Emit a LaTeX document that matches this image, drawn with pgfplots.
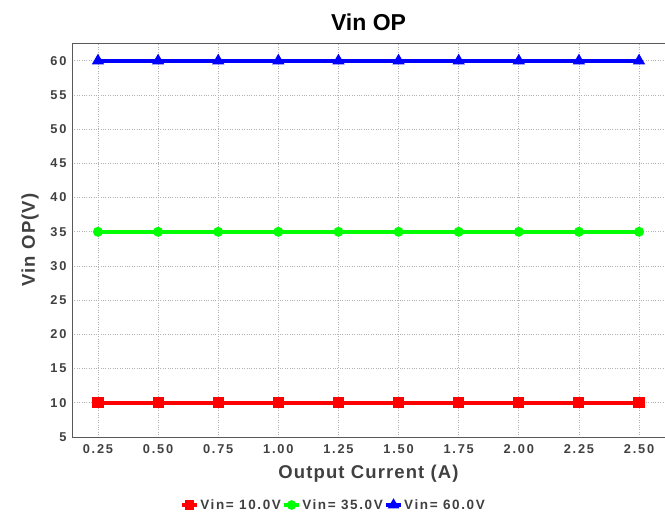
\documentclass[border=0pt]{standalone}
\usepackage{pgfplots}
\pgfplotsset{compat=1.18}
\usepackage{fontspec}
\setmainfont{Liberation Sans}
\newfontfamily\tickfont[LetterSpace=14]{Liberation Sans}
\newfontfamily\legfont[LetterSpace=12]{Liberation Sans}
\newfontfamily\labfont[LetterSpace=6]{Liberation Sans}
\definecolor{txt}{HTML}{404040}
\definecolor{vred}{HTML}{FF0000}
\definecolor{vgreen}{HTML}{00FF00}
\definecolor{vblue}{HTML}{0000FF}

\pgfplotstableread{
I      V10   V35   V60
0.25   10.0  35.0  60.0
0.50   10.0  35.0  60.0
0.75   10.0  35.0  60.0
1.00   10.0  35.0  60.0
1.25   10.0  35.0  60.0
1.50   10.0  35.0  60.0
1.75   10.0  35.0  60.0
2.00   10.0  35.0  60.0
2.25   10.0  35.0  60.0
2.50   10.0  35.0  60.0
}\vinop

\begin{document}
\begin{tikzpicture}
\begin{axis}[
  name=ax,
  scale only axis, width=593bp, height=394bp,
  xmin=0.142, xmax=2.608, ymin=5, ymax=62.6,
  xtick={0.25,0.5,...,2.5}, ytick={5,10,...,60},
  xticklabel style={/tikz/yshift=-4bp, /pgf/number format/fixed, /pgf/number format/fixed zerofill, /pgf/number format/precision=2},
  yticklabel style={/tikz/xshift=-2bp, /pgf/number format/fixed, /pgf/number format/precision=0},
  /pgf/number format/assume math mode=true,
  ticklabel style={font=\tickfont\bfseries\fontsize{12.8bp}{14bp}\selectfont, text=txt},
  major tick length=0pt,
  grid=major,
  major grid style={dotted, gray!60, line width=0.8bp},
  axis line style={gray!70!black, line width=1bp},
  title={Vin OP},
  title style={font=\bfseries\fontsize{23bp}{26bp}\selectfont, at={(0.5,1)}, anchor=base, yshift=7bp},
  xlabel={Output Current (A)},
  xlabel style={font=\labfont\bfseries\fontsize{18.5bp}{21bp}\selectfont, text=txt, at={(0.5,0)}, anchor=center, yshift=-37bp},
  ylabel={Vin OP(V)},
  ylabel style={font=\labfont\bfseries\fontsize{18.5bp}{21bp}\selectfont, text=txt, at={(0,0.5)}, anchor=center, rotate=0, yshift=42bp},
  legend style={at={(0.44,-0.1726)}, anchor=center, draw=none, fill=none,
    font=\legfont\bfseries\fontsize{13.5bp}{15bp}\selectfont, text=txt,
    legend columns=3, inner sep=0pt,
    nodes={inner xsep=1bp, inner ysep=1bp},
    /tikz/every even column/.style={column sep=0bp}},
  legend image code/.code={\draw[#1, line width=4.3bp] (0bp,0bp) -- (15bp,0bp); \draw[#1, only marks, mark size=2.5bp] plot coordinates {(7.5bp,0bp)};},
]
\addplot[vred, line width=4.3bp, mark=square*, mark size=3.4bp, mark options={solid}] table[x=I, y=V10] {\vinop};
\addlegendentry{Vin= 10.0V}
\addplot[vgreen, line width=4.3bp, mark=*, mark size=2.7bp] table[x=I, y=V35] {\vinop};
\addlegendentry{Vin= 35.0V}
\addplot[vblue, line width=4.3bp, mark=triangle*, mark size=2.8bp] table[x=I, y=V60] {\vinop};
\addlegendentry{Vin= 60.0V}
\end{axis}
% page frame: 72bp left of the plot box, 78bp below it, 515bp tall in all
\pgfresetboundingbox
\useasboundingbox ([shift={(-72bp,-78bp)}]ax.south west) rectangle ([shift={(0bp,437bp)}]ax.south east);
\end{tikzpicture}
\end{document}
